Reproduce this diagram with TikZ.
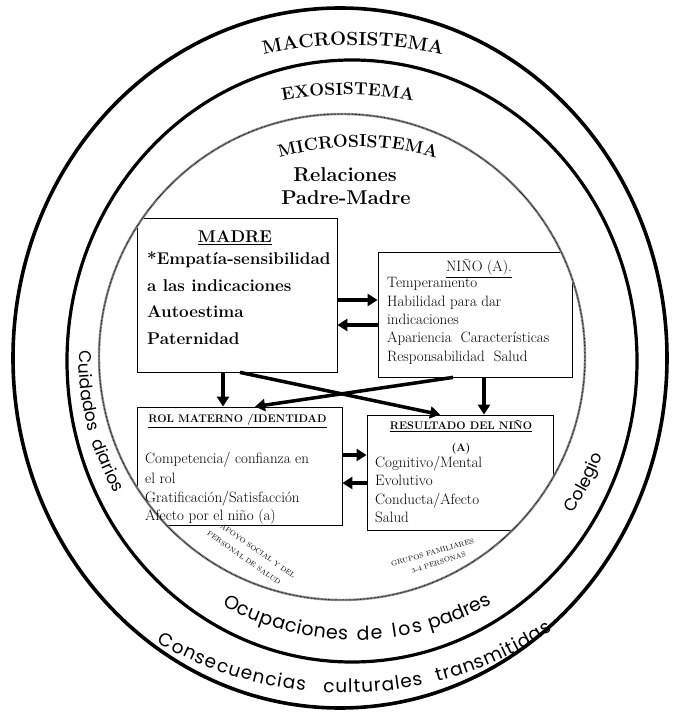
\documentclass[tikz,border=0pt]{standalone}
\usepackage{fontspec}
\newfontfamily\gothic{Poppins}
\usetikzlibrary{arrows.meta,decorations.text}

% fonts for the ring labels
\newcommand\ringtitle{\bfseries\fontsize{19}{19}\selectfont}
\newcommand\ringtitlesmall{\bfseries\fontsize{17.5}{17.5}\selectfont}
\newcommand\ringsans{\gothic\fontsize{17}{17}\selectfont}
\newcommand\ringsansmid{\gothic\fontsize{19}{19}\selectfont}
\newcommand\ringsansbig{\gothic\fontsize{18.5}{18.5}\selectfont}

\tikzset{
  box/.style={draw=black, line width=0.8pt, fill=white, inner sep=0pt},
  boldline/.style={font=\bfseries\fontsize{17}{17}\selectfont, inner sep=0pt, anchor=base west},
  boldtitle/.style={font=\bfseries\fontsize{17}{17}\selectfont, inner sep=0pt, anchor=base},
  bodyline/.style={font=\fontsize{15}{15}\selectfont, inner sep=0pt, anchor=base west},
  bodytitle/.style={font=\fontsize{15}{15}\selectfont, inner sep=0pt, anchor=base},
  headline/.style={font=\bfseries\fontsize{11}{11}\selectfont, inner sep=0pt, anchor=base},
  bigline/.style={font=\bfseries\fontsize{20}{20}\selectfont, inner sep=0pt, anchor=base},
  smallcaps/.style={font=\fontsize{7}{7}\selectfont, inner sep=0pt},
  thickarrow/.style={line width=3.5pt, -{Triangle[length=10pt,width=12pt]}},
}

\begin{document}
\begin{tikzpicture}[x=1pt,y=1pt]
\useasboundingbox (0,0) rectangle (673,713);

% macro- and exosystem rings
\draw[line width=3.6pt] (340,355) ellipse [x radius=327, y radius=350];
\draw[line width=3.2pt] (352,352) ellipse [x radius=285, y radius=301];

% boxes, cut by the microsystem ring
\begin{scope}
  \clip (342,356) circle [radius=243];
  \node[box, minimum width=200pt, minimum height=154pt] (madre) at (237,418) {};
  \node[box, minimum width=194pt, minimum height=125pt] (nino) at (475,398.5) {};
  \node[box, minimum width=205pt, minimum height=118pt] (rol) at (239.5,247) {};
  \node[box, minimum width=186pt, minimum height=115pt] (res) at (460,240.5) {};
\end{scope}

% microsystem ring
\draw[line width=2.4pt, draw=black!40] (342,356) circle [radius=243];
\draw[line width=1pt, dash pattern=on 0.6pt off 0.8pt] (342,356) circle [radius=243];

% ring titles
\path[decorate, decoration={text along path, text align=center,
  text={|\ringtitle|MACROSISTEMA}}]
  ([shift={(110:410)}]353,258) arc[start angle=110, end angle=70, radius=410];
\path[decorate, decoration={text along path, text align=center,
  text={|\ringtitlesmall|EXOSISTEMA}}]
  ([shift={(108:360)}]348,258) arc[start angle=108, end angle=72, radius=360];
\path[decorate, decoration={text along path, text align=center,
  text={|\ringtitlesmall|MICROSISTEMA}}]
  ([shift={(115:286)}]358,280) arc[start angle=115, end angle=65, radius=286];

\node[bigline] (rel1) at (345,531) {Relaciones};
\node[bigline] (rel2) at (346,508) {Padre-Madre};

% mother
\node[boldtitle] (madre-t) at (235,470) {\underline{MADRE}};
\node[boldline] (madre-1) at (147,448) {*Empatía-sensibilidad};
\node[boldline] (madre-2) at (147,421) {a las indicaciones};
\node[boldline] (madre-3) at (147,395) {Autoestima};
\node[boldline] (madre-4) at (147,368) {Paternidad};

% child
\node[bodytitle] (nino-t) at (479,441) {\underline{NIÑO (A).}};
\node[bodyline] (nino-1) at (387,425) {Temperamento};
\node[bodyline] (nino-2) at (387,406) {Habilidad para dar};
\node[bodyline] (nino-3) at (387,388) {indicaciones};
\node[bodyline] (nino-4) at (387,370) {Apariencia\ \ Características};
\node[bodyline] (nino-5) at (387,351) {Responsabilidad\ \ Salud};

% maternal role
\node[headline] (rol-t) at (237.5,290) {\underline{ROL MATERNO /IDENTIDAD}};
\node[bodyline] (rol-1) at (145,249) {Competencia/ confianza en};
\node[bodyline] (rol-2) at (145,229.5) {el rol};
\node[bodyline] (rol-3) at (145,210.5) {Gratificación/Satisfacción};
\node[bodyline] (rol-4) at (145,192) {Afecto por el niño (a)};

% child outcome
\node[headline] (res-t) at (461,283) {\underline{RESULTADO DEL NIÑO}};
\node[headline] (res-a) at (461,261) {(A)};
\node[bodyline] (res-1) at (375,245) {Cognitivo/Mental};
\node[bodyline] (res-2) at (375,227) {Evolutivo};
\node[bodyline] (res-3) at (375,208) {Conducta/Afecto};
\node[bodyline] (res-4) at (375,190) {Salud};

% small labels inside the microsystem
\node[smallcaps, rotate=-35] (apoyo-1) at (258,162) {APOYO SOCIAL Y DEL};
\node[smallcaps, rotate=-35] (apoyo-2) at (244,155) {PERSONAL DE SALUD};
\node[smallcaps, rotate=16] (grupos-1) at (432.5,160.5) {GRUPOS FAMILIARES};
\node[smallcaps, rotate=18] (grupos-2) at (438.5,150.5) {3-4 PERSONAS};

% arrows
\draw[thickarrow] ([yshift=-5pt]madre.east) -- ([yshift=14.5pt]nino.west);
\draw[thickarrow] ([yshift=-10.5pt]nino.west) -- ([yshift=-30pt]madre.east);
\draw[thickarrow] ([xshift=-14pt]madre.south) -- ([xshift=-16.5pt]rol.north);
\draw[thickarrow] ([xshift=3pt]madre.south) -- ([xshift=-20pt]res.north);
\draw[thickarrow] ([xshift=-22pt]nino.south) -- ([xshift=15.5pt]rol.north);
\draw[thickarrow] ([xshift=9pt]nino.south) -- ([xshift=24pt]res.north);
\draw[thickarrow] ([yshift=11pt]rol.east) -- ([yshift=17.5pt]res.west);
\draw[thickarrow] ([yshift=-10.5pt]res.west) -- ([yshift=-17pt]rol.east);

% exosystem labels (between the rings)
\path[decorate, decoration={text along path, text align=center, text={|\ringsans|Cuidados}}]
  ([shift={(170:268)}]347,354) arc[start angle=170, end angle=204, radius=268];
\path[decorate, decoration={text along path, text align=center, text={|\ringsans|diarios}}]
  ([shift={(188:268)}]347,354) arc[start angle=188, end angle=220, radius=268];
\path[decorate, decoration={text along path, text align=center, text={|\ringsans|Colegio}}]
  ([shift={(-45:273)}]347,354) arc[start angle=-45, end angle=-10, radius=273];

\path[decorate, decoration={text along path, text align=fit to path, text={|\ringsansmid|Ocupaciones}}]
  ([shift={(-118.9:275)}]355,348) arc[start angle=-118.9, end angle=-91.5, radius=275];
\path[decorate, decoration={text along path, text align=fit to path, text={|\ringsansmid|de}}]
  ([shift={(-89.6:275)}]355,348) arc[start angle=-89.6, end angle=-84.2, radius=275];
\path[decorate, decoration={text along path, text align=fit to path, text={|\ringsansmid|los}}]
  ([shift={(-82.1:275)}]355,348) arc[start angle=-82.1, end angle=-75.7, radius=275];
\path[decorate, decoration={text along path, text align=fit to path, text={|\ringsansmid|padres}}]
  ([shift={(-74.2:275)}]355,348) arc[start angle=-74.2, end angle=-61.1, radius=275];

% macrosystem label
\path[decorate, decoration={text along path, text align=fit to path, text={|\ringsansbig|Consecuencias}}]
  ([shift={(-120:376)}]345,396) arc[start angle=-120, end angle=-96.1, radius=376];
\path[decorate, decoration={text along path, text align=fit to path, text={|\ringsansbig|culturales}}]
  ([shift={(-93.35:376)}]345,396) arc[start angle=-93.35, end angle=-78, radius=376];
\path[decorate, decoration={text along path, text align=fit to path, text={|\ringsansbig|transmitidas}}]
  ([shift={(-75.8:376)}]345,396) arc[start angle=-75.8, end angle=-56.5, radius=376];
\end{tikzpicture}
\end{document}
